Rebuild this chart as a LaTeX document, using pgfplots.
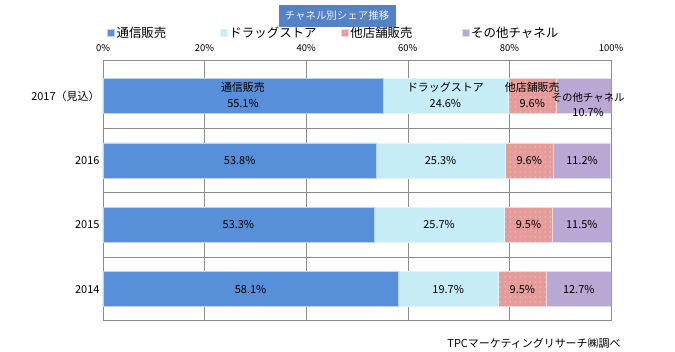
\documentclass[border=0pt]{standalone}
\usepackage{fontspec}
\setmainfont{Noto Sans CJK JP}
\usepackage{pgfplots}
\pgfplotsset{compat=1.18}
\usetikzlibrary{patterns.meta}
\definecolor{cBlue}{RGB}{88,143,217}
\definecolor{cCyan}{RGB}{198,236,246}
\definecolor{cPink}{RGB}{229,155,153}
\definecolor{cLav}{RGB}{184,168,212}
\definecolor{cGrid}{RGB}{140,140,140}
\definecolor{cTitle}{RGB}{84,130,196}
\begin{document}
\begin{tikzpicture}
\path[use as bounding box] (-103bp,-32bp) rectangle (572bp,320bp);
\begin{axis}[
  at={(0,0)}, anchor=south west,
  scale only axis, width=508bp, height=260bp,
  xbar stacked, bar width=35bp,
  xmin=0, xmax=100, ymin=-0.56, ymax=3.48, y dir=reverse,
  xtick={0,20,...,100}, xticklabel={\pgfmathprintnumber{\tick}\%},
  xticklabel pos=right,
  ytick={0,1,2,3}, yticklabels={2017（見込）,2016,2015,2014},
  minor ytick={0.5,1.5,2.5}, yminorgrids=true, xmajorgrids=true,
  major tick length=0pt, minor tick length=0pt,
  axis line style={cGrid}, 
  grid style={cGrid, line width=0.6pt}, minor grid style={cGrid, line width=0.6pt},
  /pgf/number format/assume math mode=true,
  xticklabel style={font=\fontsize{9.5}{10}\selectfont, yshift=5bp},
  yticklabel style={font=\fontsize{11}{12}\selectfont},
  legend columns=4,
  legend style={at={(axis description cs:0,1)}, anchor=west, xshift=4bp, yshift=27bp,
    draw=none, fill=none, inner sep=0pt, font=\fontsize{12.5}{13}\selectfont,
    /tikz/every even column/.append style={column sep=0pt}},
  legend image code/.code={\fill[#1] (0bp,-3.5bp) rectangle (7bp,3.5bp);},
]
\addplot[fill=cBlue, draw=white!60!cBlue] coordinates {(55.1,0) (53.8,1) (53.3,2) (58.1,3)};
\addlegendentry{\makebox[101.5bp][l]{通信販売}}
\addplot[fill=cCyan, draw=white!50!cCyan] coordinates {(24.6,0) (25.3,1) (25.7,2) (19.7,3)};
\addlegendentry{\makebox[109.5bp][l]{ドラッグストア}}
\addplot[fill=cPink, draw=white!60!cPink, postaction={pattern={Dots[distance=5bp, radius=0.5bp]}, pattern color=white}] coordinates {(9.6,0) (9.6,1) (9.5,2) (9.5,3)};
\addlegendentry{\makebox[109.5bp][l]{他店舗販売}}
\addplot[fill=cLav, draw=white!60!cLav] coordinates {(10.7,0) (11.2,1) (11.5,2) (12.7,3)};
\addlegendentry{\makebox[100bp][l]{その他チャネル}}
\end{axis}
\begin{axis}[
  at={(0,0)}, anchor=south west,
  scale only axis, width=508bp, height=260bp,
  xmin=0, xmax=100, ymin=-0.56, ymax=3.48, y dir=reverse,
  hide axis, clip=false,
]
\addplot[only marks, mark=none, point meta=explicit symbolic, nodes near coords,
  every node near coord/.append style={anchor=center, font=\fontsize{11}{12}\selectfont, text=black, inner sep=0pt}]
  coordinates {
  (26.9,1) [53.8\%] (66.45,1) [25.3\%] (83.9,1) [9.6\%] (94.3,1) [11.2\%]
  (26.65,2) [53.3\%] (66.15,2) [25.7\%] (83.75,2) [9.5\%] (94.25,2) [11.5\%]
  (29.05,3) [58.1\%] (67.95,3) [19.7\%] (82.55,3) [9.5\%] (93.65,3) [12.7\%]
  (27.55,0.12) [55.1\%] (67.4,0.12) [24.6\%] (84.5,0.12) [9.6\%] (95.5,0.25) [10.7\%]
  (27.55,-0.13) [通信販売] (67.4,-0.13) [ドラッグストア] (84.5,-0.13) [他店舗販売]
  };
\addplot[only marks, mark=none, point meta=explicit symbolic, nodes near coords,
  every node near coord/.append style={anchor=center, font=\fontsize{10.5}{12}\selectfont, text=black, inner sep=0pt}]
  coordinates {(95.5,0.02) [その他チャネル]};
\end{axis}
\node[fill=cTitle, text=white!90!cTitle, minimum width=117bp, minimum height=22bp, inner sep=0pt, font=\fontsize{10.5}{12}\selectfont] at (234bp,304bp) {チャネル別シェア推移};
\node[font=\fontsize{11}{12}\selectfont, anchor=center] at (431bp,-23bp) {TPCマーケティングリサーチ㈱調べ};
\end{tikzpicture}
\end{document}
